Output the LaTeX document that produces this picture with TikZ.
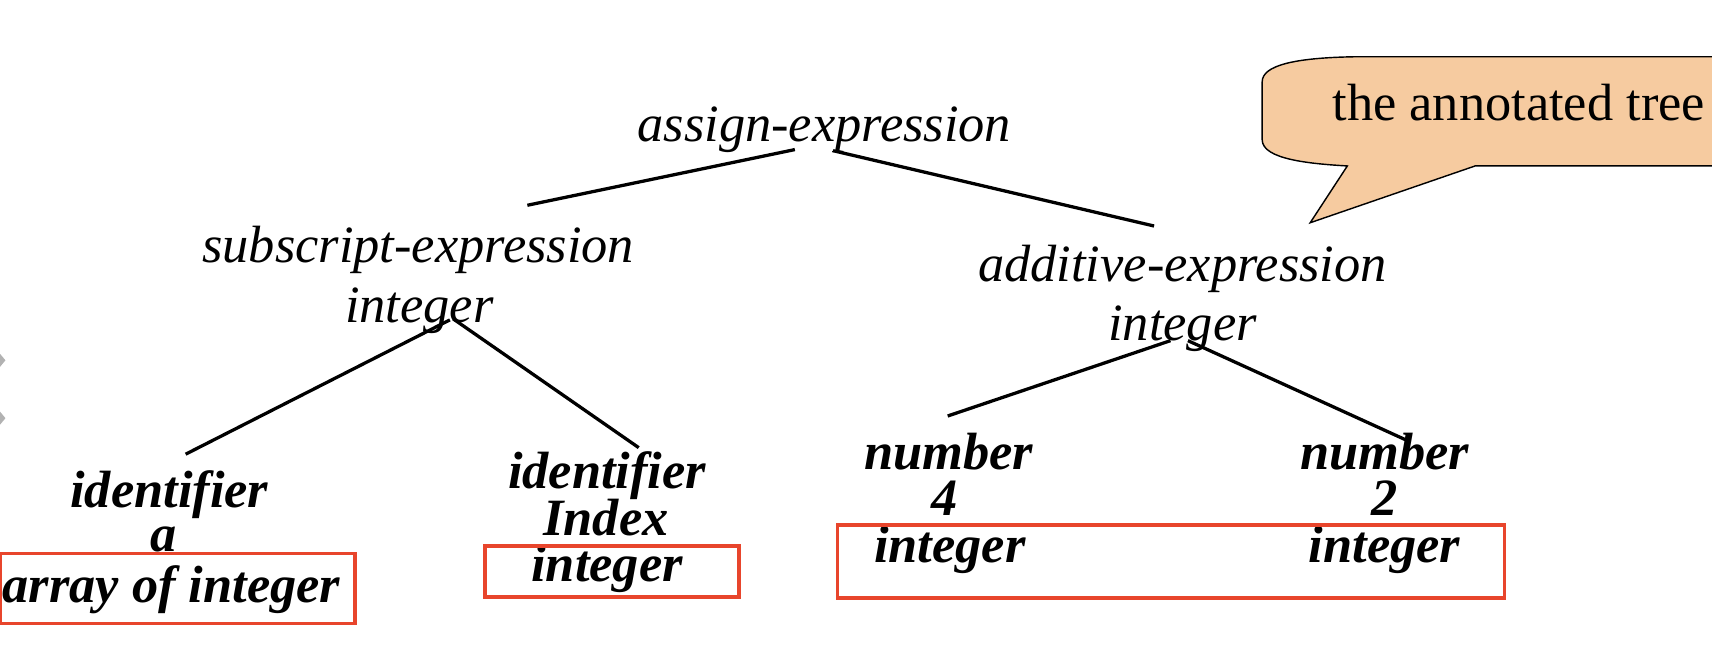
\documentclass[tikz,border=0pt]{standalone}
\usepackage{fontspec}
\setmainfont{Liberation Serif}
\usetikzlibrary{calc}
\definecolor{boxred}{RGB}{232,69,44}
\definecolor{peach}{RGB}{246,203,160}
\tikzset{
  lbl/.style={anchor=base, inner sep=0pt, font=\fontsize{48}{52}\selectfont\itshape},
  leaf/.style={anchor=base, inner sep=0pt, font=\fontsize{48}{52}\selectfont\bfseries\itshape},
  edge/.style={line width=3pt, black},
  redbox/.style={draw=boxred, line width=3.5pt},
  callout/.style={draw=black, line width=1.3pt, fill=peach}
}
\begin{document}
\begin{tikzpicture}[x=1pt,y=-1pt]
\useasboundingbox (0,0) rectangle (1568,599);
% callout
\draw[callout] (1156,75) -- (1156,128) .. controls (1156,146) and (1200,150) .. (1234,152)
  -- (1200,204) -- (1351,152) -- (1575,152) -- (1575,52) -- (1240,52)
  .. controls (1185,53) and (1156,60) .. (1156,75);
\node[anchor=base, inner sep=0pt, font=\fontsize{48}{52}\selectfont] (note) at (1391,110) {the annotated tree};
% small marks on the left edge
\fill[gray!60] (0,324) -- (5,330) -- (0,336) -- (-5,330) -- cycle;
\fill[gray!60] (0,377) -- (5,383) -- (0,389) -- (-5,383) -- cycle;
% inner nodes
\node[lbl] (assign) at (755,130) {assign-expression};
\node[lbl] (sub) at (383,240) {subscript-expression};
\node[lbl] (subint) at (384,295) {integer};
\node[lbl] (add) at (1083,258) {additive-expression};
\node[lbl] (addint) at (1083,312) {integer};
% leaves
\node[leaf] (idA) at (155,465) {identifier};
\node[leaf] (idAname) at (150,505) {a};
\node[leaf] (idAtype) at (157,552) {array of integer};
\node[leaf] (idI) at (556,447) {identifier};
\node[leaf] (idIname) at (555,490) {Index};
\node[leaf] (idItype) at (556,533) {integer};
\node[leaf] (numL) at (869,430) {number};
\node[leaf] (numLval) at (865,472) {4};
\node[leaf] (numLtype) at (870,515) {integer};
\node[leaf] (numR) at (1268,430) {number};
\node[leaf] (numRval) at (1268,472) {2};
\node[leaf] (numRtype) at (1268,515) {integer};
% connectors
\draw[edge] ($(assign.base)+(-27,7)$) -- ($(sub.base)+(100,-52)$);
\draw[edge] ($(assign.base)+(8,8)$) -- ($(add.base)+(-26,-51)$);
\draw[edge] ($(subint.base)+(28,-2)$) -- ($(idA.base)+(15,-49)$);
\draw[edge] ($(subint.base)+(31,-3)$) -- ($(idI.base)+(29,-37)$);
\draw[edge] ($(addint.base)+(-11,0)$) -- ($(numL.base)+(-1,-49)$);
\draw[edge] ($(addint.base)+(5,0)$) -- ($(numR.base)+(22,-26)$);
% red boxes
\draw[redbox] (0,507) rectangle (325,571);
\draw[redbox] (444,500) rectangle (677,547);
\draw[redbox] (767,481) rectangle (1378,548);
\end{tikzpicture}
\end{document}
